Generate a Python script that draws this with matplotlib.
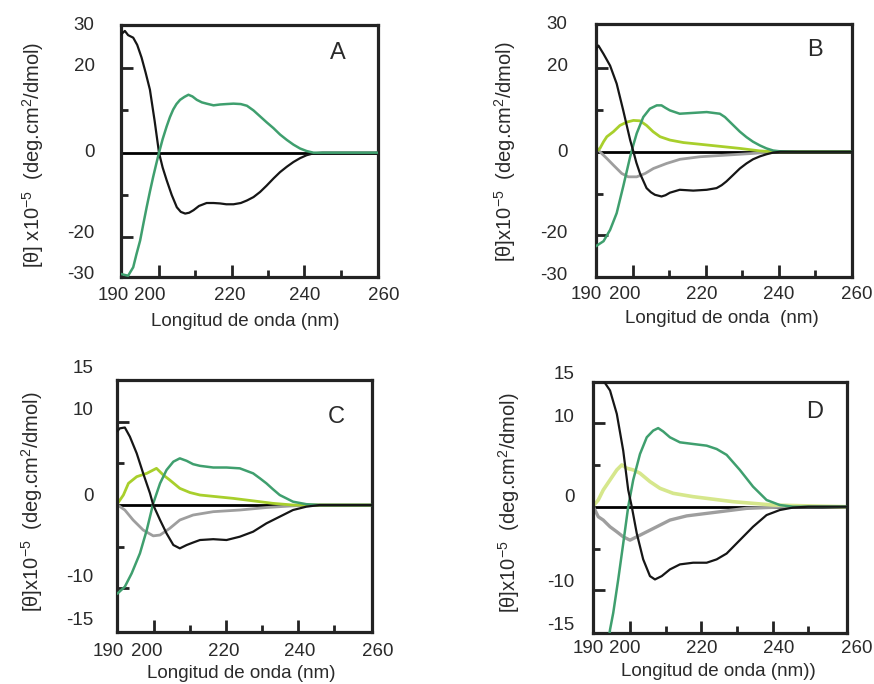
import matplotlib
matplotlib.use("Agg")
import matplotlib.pyplot as plt

plt.rcParams["font.family"] = ["Liberation Sans", "DejaVu Sans"]
plt.rcParams["mathtext.fontset"] = "custom"
plt.rcParams["mathtext.rm"] = "Liberation Sans"
plt.rcParams["mathtext.it"] = "Liberation Sans:italic"
plt.rcParams["mathtext.default"] = "rm"

# ---- panel A ----
a_black_wl = [189.6, 190.6, 191.5, 192.9, 194.0, 195.2, 196.3, 197.5, 198.8, 200.0, 201.0, 202.1,
              203.5, 204.9, 206.0, 207.2, 208.3, 209.5, 211.0, 213.1, 215.0, 216.8, 218.5, 220.5,
              222.5, 224.2, 226.0, 227.8, 229.6, 231.5, 233.3, 235.2, 237.0, 238.8, 240.6, 242.5,
              245, 250, 255, 260.3]
a_black = [28.0, 28.8, 27.8, 27.2, 25.5, 22.5, 19.0, 14.9, 7.5, 0.0, -3.5, -6.5,
           -10.0, -12.9, -14.0, -14.4, -14.2, -13.6, -12.6, -11.9, -11.9, -12.0, -12.2, -12.2,
           -11.9, -11.3, -10.5, -9.3, -7.8, -6.1, -4.6, -3.3, -2.2, -1.3, -0.6, -0.15,
           0, 0, 0, 0]
a_green_wl = [189.6, 190.5, 191.5, 192.9, 193.8, 194.8, 195.7, 196.6, 197.5, 198.4, 199.2, 200.0,
              201.0, 202.1, 203.0, 203.9, 204.8, 205.8, 207.0, 208.1, 209.2, 210.4, 211.8, 213.1,
              215.0, 216.8, 218.5, 220.5, 222.5, 224.2, 226.0, 227.8, 229.6, 231.5, 233.3, 235.2,
              237.0, 238.8, 240.6, 242.5, 245, 250, 255, 260.3]
a_green = [-28.7, -28.9, -29.1, -27.1, -24.0, -20.8, -16.8, -12.9, -9.2, -5.7, -2.8, 0.0,
           3.2, 6.2, 8.4, 10.2, 11.5, 12.5, 13.2, 13.7, 13.3, 12.5, 11.9, 11.6,
           11.2, 11.4, 11.5, 11.6, 11.5, 11.1, 10.0, 8.6, 7.2, 5.8, 4.3, 3.0,
           1.9, 1.0, 0.4, 0.0, 0, 0, 0, 0]

# ---- panel B ----
b_black_wl = [189.9, 190.6, 192.0, 193.8, 195.6, 197.4, 199.3, 200.2, 201.0, 202.0, 203.8, 205.0,
              206.1, 207.9, 209.0, 210.2, 212.9, 214.8, 216.6, 218.5, 220.3, 223.0, 224.4, 225.7,
              227.5, 229.4, 231.2, 233.0, 234.9, 236.7, 238.5, 240.4, 245, 250, 255, 260.2]
b_black = [24.5, 25.4, 23.4, 20.6, 16.3, 9.9, 2.8, 0.0, -2.6, -5.2, -8.7, -9.7,
           -10.3, -10.7, -10.4, -9.8, -9.1, -9.2, -9.3, -9.2, -9.1, -8.7, -8.0, -7.1,
           -5.6, -4.0, -2.8, -1.8, -1.1, -0.6, -0.2, 0.0, 0, 0, 0, 0]
b_green_wl = [189.9, 192.0, 193.8, 195.6, 197.4, 199.3, 200.2, 201.1, 202.9, 204.7, 206.6, 207.9,
              209.0, 210.2, 212.9, 216.6, 220.3, 223.9, 225.3, 226.7, 229.4, 231.2, 233.0, 234.9,
              236.7, 238.5, 240.4, 245, 250, 255, 260.2]
b_green = [-22.6, -21.4, -18.7, -14.7, -8.3, -1.2, 1.7, 4.4, 8.3, 10.3, 11.1, 11.1,
           10.5, 9.9, 9.1, 9.3, 9.5, 9.1, 8.3, 7.1, 4.8, 3.5, 2.4, 1.5,
           0.8, 0.3, 0.1, 0, 0, 0, 0]
b_lime_wl = [189.9, 191.0, 192.0, 192.9, 194.7, 196.5, 198.4, 200.2, 202.0, 203.8, 205.6, 207.5,
             210.2, 213.9, 218.4, 223.9, 229.4, 234.9, 238.5, 245, 250, 255, 260.2]
b_lime = [0.0, 0.8, 2.4, 3.6, 4.8, 6.3, 7.1, 7.5, 7.4, 6.3, 4.8, 3.6,
          2.8, 2.2, 1.8, 1.3, 0.8, 0.2, 0.0, 0, 0, 0, 0]
b_grey_wl = [189.9, 191.0, 192.9, 194.7, 197.0, 198.8, 201.1, 203.4, 205.7, 209.3, 213.0, 218.4,
             225.7, 233.0, 238.5, 245, 250, 255, 260.2]
b_grey = [1.2, 0.0, -1.6, -3.2, -5.2, -6.0, -6.0, -5.2, -4.0, -2.8, -1.8, -1.2,
          -0.8, -0.4, 0.0, 0, 0, 0, 0]

# ---- panel C ----
c_black_wl = [189.8, 190.4, 191.8, 193.2, 195.1, 196.9, 198.8, 199.7, 201.6, 203.4, 205.3, 207.1,
              209.0, 210.8, 212.7, 216.4, 220.1, 223.8, 227.5, 231.2, 234.9, 238.6, 242.3, 246.0,
              250, 255, 260.5]
c_black = [8.9, 9.2, 9.3, 8.2, 6.2, 3.8, 1.4, 0.0, -1.8, -3.4, -4.8, -5.2,
           -4.8, -4.5, -4.2, -4.1, -4.2, -3.8, -3.2, -2.2, -1.4, -0.6, -0.2, 0.0,
           0, 0, 0]
c_green_wl = [189.8, 191.8, 193.7, 196.0, 197.9, 199.7, 201.6, 203.4, 205.3, 207.1, 209.0, 210.8,
              212.7, 216.4, 220.1, 223.8, 227.5, 229.4, 231.2, 233.0, 234.9, 238.6, 242.3, 246,
              250, 255, 260.5]
c_green = [-10.6, -9.8, -8.2, -5.8, -3.0, 0.2, 2.6, 4.2, 5.2, 5.6, 5.3, 4.9,
           4.7, 4.5, 4.5, 4.4, 3.8, 3.2, 2.6, 1.9, 1.2, 0.4, 0.1, 0,
           0, 0, 0]
c_lime_wl = [189.8, 191.4, 192.8, 195.1, 197.9, 200.6, 202.5, 204.3, 207.1, 209.9, 212.7, 217.3,
             221.9, 227.5, 233.0, 238.6, 245, 250, 255, 260.5]
c_lime = [0.2, 1.2, 2.6, 3.4, 3.8, 4.4, 3.6, 3.0, 2.0, 1.5, 1.2, 1.0,
          0.8, 0.5, 0.2, 0.0, 0, 0, 0, 0]
c_grey_wl = [189.8, 191.8, 194.1, 196.9, 199.7, 201.6, 204.3, 207.1, 210.8, 216.4, 223.8, 231.2,
             238.6, 245, 250, 255, 260.5]
c_grey = [0.0, -0.6, -1.8, -3.0, -3.7, -3.6, -2.8, -1.8, -1.2, -0.8, -0.6, -0.3,
          -0.1, 0, 0, 0, 0]

# ---- panel D ----
d_black_wl = [191.5, 192.5, 194.4, 196.3, 198.1, 199.5, 200.5, 201.9, 203.7, 205.6, 207.0, 208.9,
              211.2, 214.0, 217.7, 221.5, 224.3, 227.1, 230.8, 234.5, 238.3, 242.0, 245.7, 250,
              255, 260.8]
d_black = [18.0, 15.1, 13.9, 11.1, 6.7, 2.0, 0.0, -3.2, -6.3, -8.3, -8.7, -8.3,
           -7.5, -6.9, -6.7, -6.7, -6.3, -5.6, -4.0, -2.4, -1.0, -0.4, -0.1, 0,
           0, 0]
d_green_wl = [194.0, 194.4, 195.3, 196.7, 198.1, 199.5, 200.9, 202.8, 204.7, 206.5, 207.9, 209.3,
              211.2, 214.0, 217.7, 221.5, 224.3, 227.1, 230.8, 234.5, 238.3, 242.0, 245.7, 250,
              255, 260.8]
d_green = [-16.0, -14.7, -12.7, -8.7, -4.4, 0.0, 3.2, 6.3, 8.3, 9.1, 9.4, 9.0,
           8.3, 7.7, 7.5, 7.3, 6.9, 6.2, 4.4, 2.4, 0.8, 0.2, 0.0, 0,
           0, 0]
d_pale_wl = [189.5, 191.1, 192.5, 194.4, 196.3, 197.7, 199.1, 200.9, 202.8, 205.6, 208.4, 212.1,
             217.7, 223.3, 228.9, 234.5, 240.1, 249.5, 260.8]
d_pale = [0.0, 0.8, 2.0, 3.2, 4.4, 5.0, 4.6, 4.4, 4.0, 3.0, 2.2, 1.6,
          1.2, 0.9, 0.6, 0.4, 0.2, 0.1, 0.0]
d_grey_wl = [189.5, 191.1, 192.5, 194.4, 196.3, 198.1, 200.0, 201.9, 204.7, 207.5, 211.2, 215.9,
             221.5, 227.1, 232.7, 238.3, 245, 250, 260.8]
d_grey = [0.2, -1.2, -1.6, -2.4, -3.0, -3.6, -4.0, -3.6, -3.0, -2.4, -1.6, -1.1,
          -0.8, -0.5, -0.2, -0.1, 0, 0, 0]

x_tick_text = ["190", "200", "220", "240", "260"]

BLACK = "#161616"
GREEN = "#3f9f6e"
LIME = "#a8cf2c"
GREY = "#9e9e9e"
PALE = "#d6e78c"
FRAME = "#232323"
TEXT = "#2a2a2a"

W, H = 874, 684
fig = plt.figure(figsize=(W / 100, H / 100), dpi=100)


def px_box(left, top, right, bottom):
    return [left / W, 1 - bottom / H, (right - left) / W, (bottom - top) / H]


def setup(ax, xlim, ylim, ymaj, ymin, ylab_vals, ylab_text, ygap, xlab_vals, xdrop, letter, lxy):
    ax.set_xlim(xlim)
    ax.set_ylim(ylim)
    ax.axhline(0, color="black", lw=2.0, zorder=1)
    ax.set_xticks([200, 220, 240])
    ax.set_xticks([210, 230, 250], minor=True)
    ax.set_yticks(ymaj)
    ax.set_yticks(ymin, minor=True)
    ax.tick_params(which="both", direction="in", width=2.0, color=FRAME,
                   labelbottom=False, labelleft=False)
    ax.tick_params(which="major", length=8.5)
    ax.tick_params(which="minor", length=5)
    for s in ax.spines.values():
        s.set_linewidth(2.3)
        s.set_color(FRAME)
    for v, t in zip(ylab_vals, ylab_text):
        ax.annotate(t, xy=(0, v), xycoords=ax.get_yaxis_transform(),
                    xytext=(-ygap * 0.72, 0), textcoords="offset points",
                    ha="right", va="center", fontsize=13.5, color=TEXT,
                    annotation_clip=False)
    for v, t in zip(xlab_vals, x_tick_text):
        ax.annotate(t, xy=(v, 0), xycoords=ax.get_xaxis_transform(),
                    xytext=(0, -xdrop * 0.72), textcoords="offset points",
                    ha="center", va="center", fontsize=13.5, color=TEXT,
                    annotation_clip=False)
    ax.text(lxy[0], lxy[1], letter, transform=ax.transAxes, fontsize=17,
            ha="center", va="center", color=TEXT)


# A
ax = fig.add_axes(px_box(120.7, 25, 378, 277))
ax.plot(a_black_wl, a_black, color=BLACK, lw=1.6, zorder=3)
ax.plot(a_green_wl, a_green, color=GREEN, lw=1.8, zorder=3)
setup(ax, (189.46, 260.26), (-29.4, 30.2), [-20, 20], [-10, 10],
      [30.2, 20.3, 0, -19.0, -28.9], ["30", "20", "0", "-20", "-30"], 26,
      [187.34, 197.52, 219.54, 240.17, 261.72], 18, "A", (0.845, 0.889))
ax.yaxis.get_minor_ticks()[0].tick1line.set_color("#b5b5b5")

# B
ax = fig.add_axes(px_box(595.7, 24.3, 852.3, 276.7))
ax.plot(b_grey_wl, b_grey, color=GREY, lw=2.0, zorder=2)
ax.plot(b_lime_wl, b_lime, color=LIME, lw=2.0, zorder=2)
ax.plot(b_green_wl, b_green, color=GREEN, lw=1.8, zorder=3)
ax.plot(b_black_wl, b_black, color=BLACK, lw=1.6, zorder=4)
setup(ax, (189.85, 260.23), (-29.9, 30.5), [-20, 20], [-10, 10],
      [30.5, 20.4, -0.2, -19.5, -29.5], ["30", "20", "0", "-20", "-30"], 28,
      [187.38, 197.9, 218.9, 239.93, 261.4], 18, "B", (0.855, 0.898))
ax.yaxis.get_minor_ticks()[0].tick1line.set_color("#b5b5b5")

# C
ax = fig.add_axes(px_box(117.3, 380, 371.7, 631.7))
ax.plot(c_grey_wl, c_grey, color=GREY, lw=2.0, zorder=2)
ax.plot(c_lime_wl, c_lime, color=LIME, lw=2.0, zorder=2)
ax.plot(c_green_wl, c_green, color=GREEN, lw=1.8, zorder=3)
ax.plot(c_black_wl, c_black, color=BLACK, lw=1.6, zorder=4)
setup(ax, (189.7, 260.5), (-15.2, 15.0), [-10, 10], [-5, 5],
      [16.4, 11.3, 1.0, -8.7, -13.8], ["15", "10", "0", "-10", "-15"], 24,
      [187.2, 197.9, 219.2, 240.4, 262.3], 20, "C", (0.862, 0.854))

# D
ax = fig.add_axes(px_box(592.7, 381.7, 846.7, 632.7))
ax.plot(d_grey_wl, d_grey, color=GREY, lw=2.4, zorder=2)
ax.plot(d_pale_wl, d_pale, color=PALE, lw=2.6, zorder=2)
ax.plot(d_green_wl, d_green, color=GREEN, lw=1.8, zorder=3)
ax.plot(d_black_wl, d_black, color=BLACK, lw=1.6, zorder=4)
setup(ax, (189.54, 260.77), (-15.07, 14.95), [-10, 10], [-5, 5],
      [15.8, 10.7, 1.1, -9.1, -14.15], ["15", "10", "0", "-10", "-15"], 18,
      [188.3, 198.6, 220.1, 241.6, 263.6], 16, "D", (0.875, 0.880))

# axis titles
ylab_a = r"[θ] x10$^{-5}$  (deg.cm$^{2}$/dmol)"
ylab_b = r"[θ]x10$^{-5}$  (deg.cm$^{2}$/dmol)"
for (x, y, t) in [(33, 155, ylab_a), (505, 151.5, ylab_b), (32, 502, ylab_b), (509, 503, ylab_b)]:
    fig.text(x / W, 1 - y / H, t, rotation=90, ha="center", va="center",
             fontsize=14.5, color=TEXT)

for (x, y, t) in [(245, 321, "Longitud de onda (nm)"), (721.7, 319, "Longitud de onda  (nm)"),
                  (240.8, 673, "Longitud de onda (nm)"), (718.3, 671.7, "Longitud de onda (nm))")]:
    fig.text(x / W, 1 - y / H, t, ha="center", va="center", fontsize=13.5, color=TEXT)

fig.savefig("out.png", dpi=100)
